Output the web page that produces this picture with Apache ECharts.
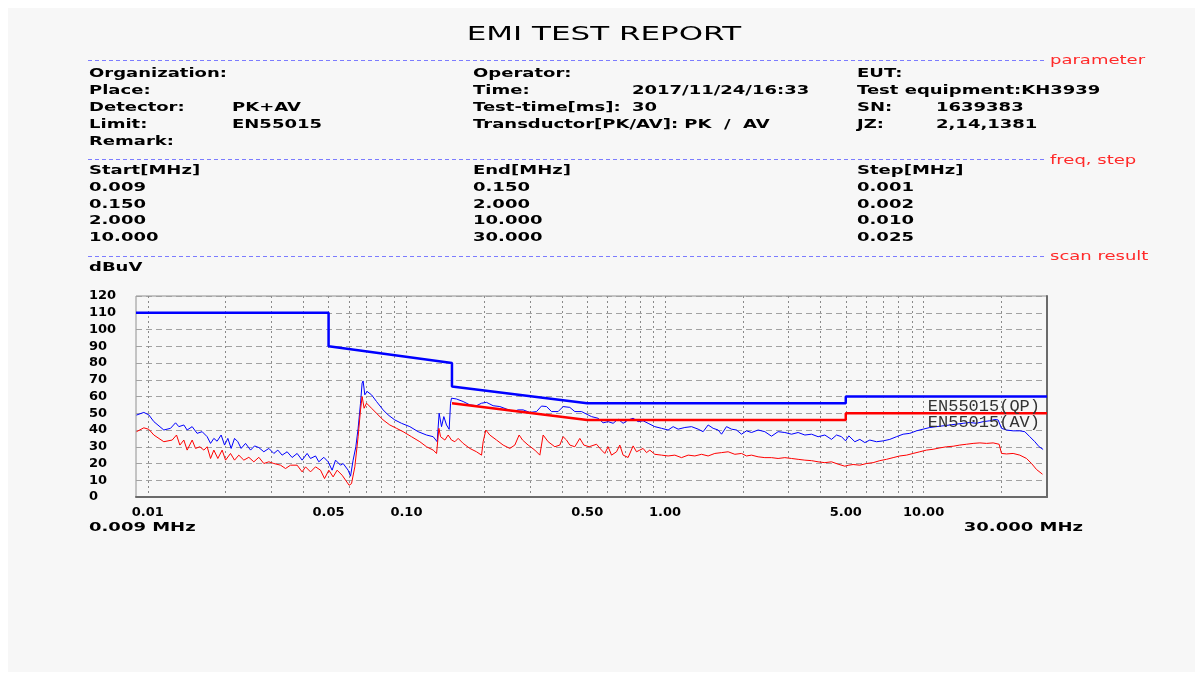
<!DOCTYPE html>
<html>
<head>
<meta charset="utf-8">
<script src="https://cdn.jsdelivr.net/npm/echarts@6/dist/echarts.min.js"></script>
<style>
html,body{margin:0;padding:0;background:#ffffff;}
#chart{width:1202px;height:674px;}
</style>
</head>
<body>
<div id="chart"></div>
<script>
// ---------------- data (frequency in MHz, level in dBuV) ----------------
const pkFreq = [0.00904,0.00965,0.01009,0.01055,0.01153,0.01224,0.0128,0.01318,0.01378,0.01419,0.01484,0.01551,0.01622,0.01696,0.01748,0.018,0.01853,0.01921,0.0198,0.02039,0.021,0.02164,0.02229,0.02295,0.02387,0.02496,0.02586,0.02687,0.02809,0.02937,0.03071,0.03182,0.03307,0.03457,0.03614,0.03779,0.03951,0.0413,0.04257,0.04451,0.04584,0.04793,0.0498,0.0516,0.05319,0.05561,
0.05691,0.05951,0.06079,0.06221,0.06373,0.06504,0.06645,0.0674,0.068,0.06904,0.07047,0.07329,0.07662,0.08126,0.08496,0.09017,0.09572,0.1031,0.111,0.1196,0.1269,0.1315,0.1338,0.1367,0.1395,0.1429,0.1463,0.1481,0.1494,0.1562,0.1657,0.1759,0.1866,0.1952,0.2041,0.2164,0.2297,0.2439,0.2586,0.2704,0.2827,0.3001,0.3185,0.333,0.3482,0.364,0.386,0.4036,0.4284,0.4479,0.4754,0.5042,
0.5197,0.5511,0.5762,0.6025,0.63,0.6586,0.6886,0.72,0.7527,0.787,0.8228,0.8602,0.913,0.9693,1.028,1.075,1.124,1.193,1.266,1.343,1.404,1.468,1.535,1.605,1.654,1.729,1.808,1.89,1.976,2.066,2.16,2.291,2.432,2.581,2.737,2.906,3.085,3.272,3.473,3.686,3.909,4.15,4.404,4.605,4.814,4.989,5.138,
5.42,5.667,5.924,6.194,6.575,6.973,7.401,7.856,8.331,8.843,9.387,9.956,10.57,11.22,11.9,12.63,13.41,14.22,15.09,16.02,16.99,18.03,18.85,19.41,20.01,20.92,22.19,23.55,24.62,25.74,26.92,27.97,28.98];
const pkLevel = [48.9,50.5,49,45,40,41,44.3,42,43,40,42,38,39,36,32,35,33.3,37,31,35,29,35,33,29,32,28,30.5,29.5,27,29,26,28,25,27,23.6,26,22,26,23,24.5,21,23.7,21,16,22,19,
20,16,12.4,22,30,41,56,68,69.3,61,63,61,57,52,49,46,44,42,39,37,36,33,50,42,48,43,40.4,56,59,58.5,57,55,54.5,56,56.5,54.5,54,52.5,51,52,52,50.5,51,54.3,54,51,51,54,53.5,51,51,49,
48,47,44.3,45,44,46.5,44,46,47,45,45.5,44,42,41,40,42,40.5,41.5,42,40.5,39,43,41,40,37.5,42,40.5,40,37.5,39.5,38.5,40,39,36.3,39,38.5,37.5,38.5,37,37.5,36,37,34.4,37,36,33.5,36.5,
33,34.4,32.5,34,33,33.5,34.4,36,37.5,38,39.5,40.5,41.5,42,42.5,43,43.5,44,44.5,44,45,45.5,46.3,46,41,40,39.5,39.5,39,36,33,30,28.4];

const avFreq = [0.00904,0.00965,0.01009,0.01055,0.01153,0.01242,0.01291,0.0133,0.01378,0.01419,0.01484,0.01529,0.01589,0.01647,0.01696,0.01748,0.018,0.01865,0.01938,0.01998,0.02088,0.02164,0.02248,0.02351,0.02458,0.0257,0.02687,0.02809,0.02937,0.03071,0.0326,0.03408,0.03563,0.03779,0.03951,0.04072,0.04257,0.04451,0.04654,0.04823,0.05011,0.05207,0.05395,0.05641,
0.06004,0.06134,0.06316,0.06504,0.06645,0.0674,0.06861,0.0701,0.07329,0.07662,0.08126,0.08625,0.09154,0.09711,0.1046,0.1127,0.1196,0.1269,0.1308,0.1335,0.1355,0.1408,0.145,0.1494,0.1539,0.1585,0.1657,0.1759,0.1866,0.1952,0.198,0.2028,0.2101,0.2231,0.2366,0.2511,0.2625,0.2728,0.2812,0.2956,0.3137,0.328,0.3378,0.3532,0.3749,0.3919,0.4036,0.416,0.4284,0.4479,0.4683,0.4853,0.5087,
0.5434,0.5681,0.5851,0.6025,0.621,0.6493,0.6686,0.6886,0.72,0.7527,0.7758,0.799,0.8228,0.8481,0.8734,0.913,0.9693,1.028,1.091,1.158,1.229,1.304,1.384,1.468,1.558,1.654,1.754,1.862,1.976,2.066,2.16,2.291,2.432,2.581,2.737,2.906,3.085,3.272,3.473,3.686,3.909,4.15,4.404,4.67,4.958,5.138,
5.338,5.667,6.015,6.378,6.77,7.187,7.622,8.09,8.587,9.106,9.668,10.26,10.88,11.55,12.27,13.01,13.8,14.65,15.54,16.5,17.51,18.57,19.59,20.01,20.92,22.19,23.55,25,26.14,27.33,28.82];
const avLevel = [39,41.3,40.4,37,33,34,37,31,34,28,34,29,30,28,30,23,28,23,28,22,26,22,25,22,23.7,21,23.7,20,21,20,19,17,19,19,15,18,15,18,16,11,16,12,16,13,
7,8,18,36,52,60,53,56,53,50,46,43,41,39,36,33,30,28,26,41,36,34,37,34,33,35,32,29,27,25,33,40,37,34,31,29,31,37,34,31,28,25,37,33,30,31,36,34,31,30,35,31,30,
31.5,28,26,30,25,27,31,25,23.6,30.5,27,28,29,26.5,28,25.5,25,24.5,25,23.5,25,24.5,25.5,24.5,26,26.5,27,25.5,26,24.5,25,24,23.5,23.5,23,23.5,23,22.5,22,21.7,21,20.5,21,19.6,18.4,19,
19.4,19,20,20.5,21.7,22.5,23.5,24.5,25,26,27,28,28.5,29.3,30,30.3,31,31.5,32,32.3,32,32.3,31.5,26,25.7,26,25,23,20,16.4,13.6];

const qpLimitFreq = [0.009,0.05,0.05,0.15,0.15,0.5,5,5,30];
const qpLimitLevel = [110,110,90,80,66,56,56,60,60];
const avLimitFreq = [0.15,0.5,5,5,30];
const avLimitLevel = [56,46,46,50,50];

const xTickLabels = [0.01,0.05,0.1,0.5,1,5,10];
const xGridFreqs = [0.01,0.02,0.03,0.04,0.05,0.06,0.07,0.08,0.09,0.1,0.2,0.3,0.4,0.5,0.6,0.7,0.8,0.9,1,2,3,4,5,6,7,8,9,10,20];
const yTicks = [0,10,20,30,40,50,60,70,80,90,100,110,120];
const xRange = [0.009, 30];

// ---------------- chart ----------------
const pairs = (fs, vs) => fs.map((f, i) => [Math.log10(f), vs[i]]);

const HF = 'bold 12px "DejaVu Sans"';
const T = (x, y, s, o) => {
  o = o || {};
  const al = o.align || 'left';
  return {type: 'text', x: x, y: y, scaleX: o.sx || 1.5, z: 100, silent: true,
    style: {text: s, font: o.font || HF, fill: o.fill || '#000000',
      textAlign: al, align: al, textVerticalAlign: 'middle', verticalAlign: 'middle'}};
};
const D = (y) => ({type: 'line', z: 100, silent: true,
  shape: {x1: 88, y1: y, x2: 1045, y2: y},
  style: {stroke: '#7c7cff', lineWidth: 1, lineDash: [4, 3]}});
const RF = '12px "DejaVu Sans"';
const RED = '#ff2a2a';

const graphicEls = [
  {type: 'rect', z: -100, silent: true, shape: {x: 8, y: 8, width: 1187, height: 664}, style: {fill: '#f7f7f7'}},
  T(604, 35, 'EMI TEST REPORT', {font: '19px "DejaVu Sans"', sx: 1.63, align: 'center'}),
  D(60.5), D(159.5), D(256.5),
  T(1050, 61, 'parameter', {font: RF, fill: RED}),
  T(1050, 161, 'freq, step', {font: RF, fill: RED}),
  T(1050, 257, 'scan result', {font: RF, fill: RED}),
  T(89, 74, 'Organization:'), T(473, 74, 'Operator:'), T(857, 74, 'EUT:'),
  T(89, 91, 'Place:'), T(473, 91, 'Time:'), T(632, 91, '2017/11/24/16:33'), T(857, 91, 'Test equipment:KH3939'),
  T(89, 108, 'Detector:'), T(232, 108, 'PK+AV'), T(473, 108, 'Test-time[ms]:'), T(632, 108, '30'), T(857, 108, 'SN:'), T(936, 108, '1639383'),
  T(89, 125, 'Limit:'), T(232, 125, 'EN55015'), T(473, 125, 'Transductor[PK/AV]: PK  /  AV'), T(857, 125, 'JZ:'), T(936, 125, '2,14,1381'),
  T(89, 142, 'Remark:'),
  T(89, 171, 'Start[MHz]'), T(473, 171, 'End[MHz]'), T(857, 171, 'Step[MHz]'),
  T(89, 188, '0.009'), T(473, 188, '0.150'), T(857, 188, '0.001'),
  T(89, 204.5, '0.150'), T(473, 204.5, '2.000'), T(857, 204.5, '0.002'),
  T(89, 221, '2.000'), T(473, 221, '10.000'), T(857, 221, '0.010'),
  T(89, 237.5, '10.000'), T(473, 237.5, '30.000'), T(857, 237.5, '0.025'),
  T(89, 268, 'dBuV'),
  T(89, 528, xRange[0].toFixed(3) + ' MHz'),
  T(1083, 528, xRange[1].toFixed(3) + ' MHz', {align: 'right'})
];

const limitLabel = {show: true, formatter: '{a}', align: 'right', verticalAlign: 'top', distance: 0,
  offset: [-7, 1], fontFamily: 'Liberation Mono', fontSize: 17, color: '#333333'};

const option = {
  backgroundColor: '#ffffff',
  animation: false,
  grid: {left: 136, right: 155, top: 296, bottom: 177, show: true, borderColor: '#909090', borderWidth: 1},
  xAxis: {
    type: 'value', min: Math.log10(xRange[0]), max: Math.log10(xRange[1]),
    axisLine: {show: true, onZero: false, lineStyle: {color: '#6a6a6a', width: 2}},
    axisTick: {show: false, customValues: xGridFreqs.map(Math.log10)},
    axisLabel: {customValues: xTickLabels.map(Math.log10), formatter: (v) => Math.pow(10, v).toFixed(2),
      color: '#000', fontFamily: 'DejaVu Sans', fontWeight: 'bold', fontSize: 13, margin: 9},
    splitLine: {show: true, lineStyle: {color: '#8a8a8a', width: 1, type: [2, 3]}}
  },
  yAxis: [{
    type: 'value', min: yTicks[0], max: yTicks[yTicks.length - 1], interval: yTicks[1] - yTicks[0],
    axisLine: {show: false}, axisTick: {show: false},
    axisLabel: {align: 'left', margin: 47, color: '#000', fontFamily: 'DejaVu Sans', fontWeight: 'bold', fontSize: 13},
    splitLine: {show: true, lineStyle: {color: '#a2a2a2', width: 1, type: [6, 4]}}
  }, {
    type: 'value', position: 'right', min: yTicks[0], max: yTicks[yTicks.length - 1],
    axisLine: {show: true, lineStyle: {color: '#6a6a6a', width: 2}},
    axisTick: {show: false}, axisLabel: {show: false}, splitLine: {show: false}
  }],
  graphic: {elements: graphicEls},
  series: [
    {type: 'line', name: 'PK', data: pairs(pkFreq, pkLevel), symbol: 'none', z: 2,
      lineStyle: {color: '#0000ff', width: 1}, itemStyle: {color: '#0000ff'}},
    {type: 'line', name: 'AV', data: pairs(avFreq, avLevel), symbol: 'none', z: 2,
      lineStyle: {color: '#ff0000', width: 1}, itemStyle: {color: '#ff0000'}},
    {type: 'line', name: 'EN55015(QP)', data: pairs(qpLimitFreq, qpLimitLevel), symbol: 'none', z: 3,
      lineStyle: {color: '#0000ff', width: 2.5}, itemStyle: {color: '#0000ff'}, endLabel: limitLabel},
    {type: 'line', name: 'EN55015(AV)', data: pairs(avLimitFreq, avLimitLevel), symbol: 'none', z: 3,
      lineStyle: {color: '#ff0000', width: 2.5}, itemStyle: {color: '#ff0000'}, endLabel: limitLabel}
  ]
};

const chart = echarts.init(document.getElementById('chart'), null, {renderer: 'canvas'});
chart.setOption(option);
</script>
</body>
</html>
